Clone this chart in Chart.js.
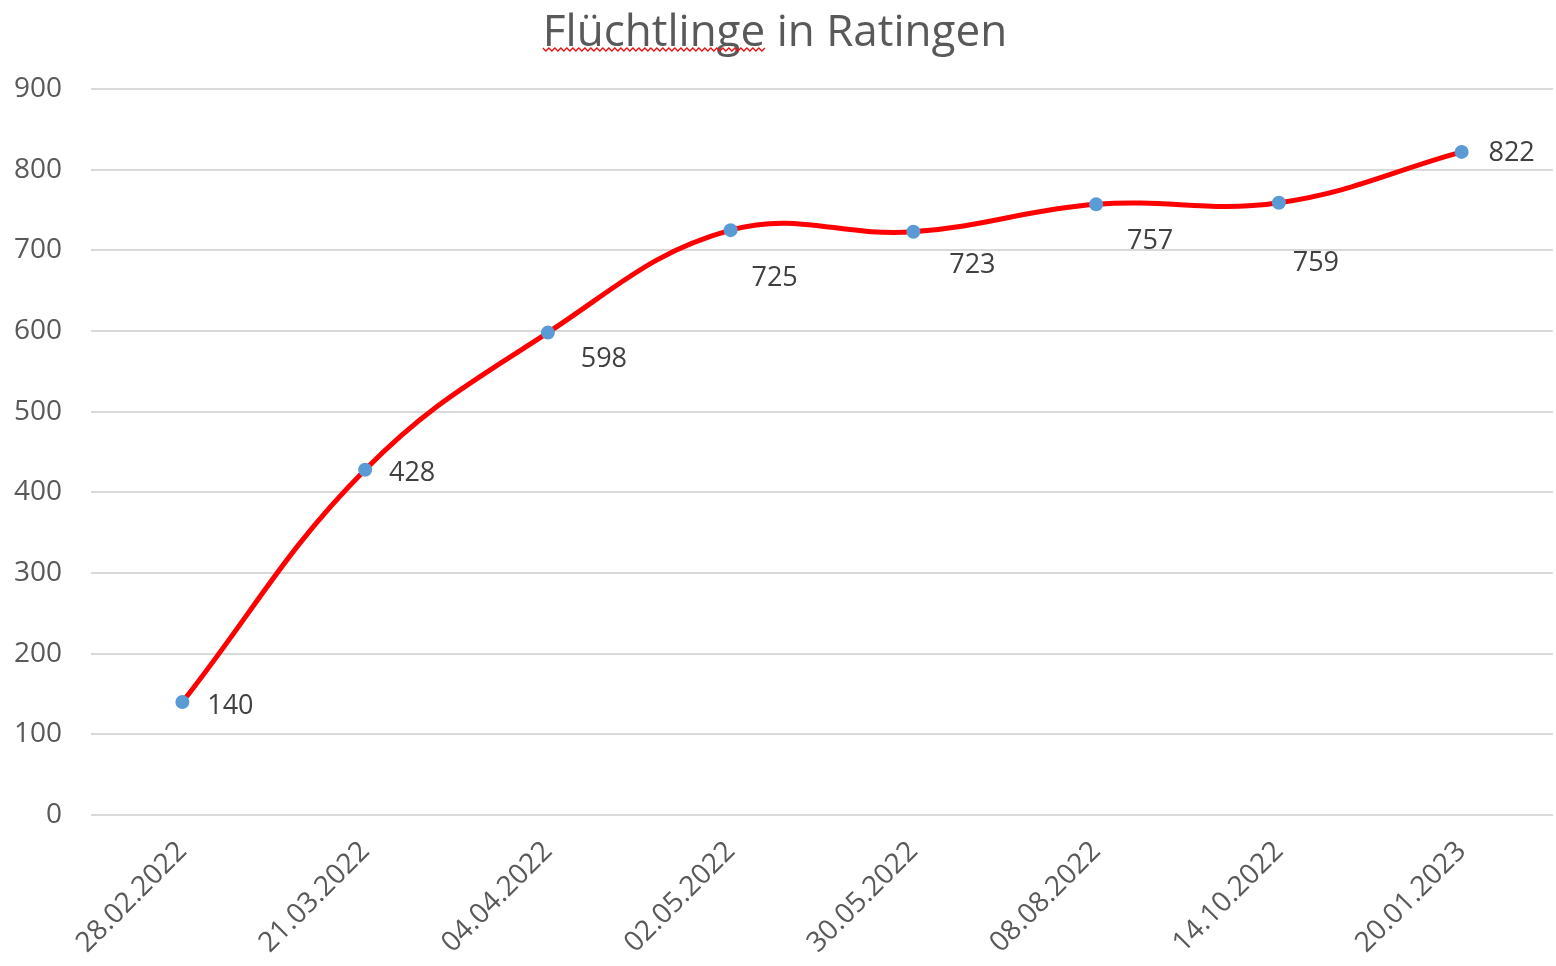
<!DOCTYPE html>
<html>
<head>
<meta charset="utf-8">
<script src="https://cdn.jsdelivr.net/npm/chart.js@4"></script>
<style>
  html, body { margin: 0; padding: 0; background: #fff; overflow: hidden; }
  /* a little wider than the window: Chart.js keeps a few px on the right, the grid should reach the edge */
  #wrap { width: 1560px; height: 966px; }
</style>
</head>
<body>
<div id="wrap"><canvas id="chart"></canvas></div>
<script>
const chartTitle = "Flüchtlinge in Ratingen";
const dates = ["28.02.2022", "21.03.2022", "04.04.2022", "02.05.2022", "30.05.2022", "08.08.2022", "14.10.2022", "20.01.2023"];
const refugees = [140, 428, 598, 725, 723, 757, 759, 822];
const yTicks = [0, 100, 200, 300, 400, 500, 600, 700, 800, 900];

const FONT = "'Open Sans', 'Liberation Sans', sans-serif";
const TITLE_SIZE = 44;

// data labels, offset from each point like in the original
const labelPlugin = {
  id: "pointLabels",
  afterDatasetsDraw(chart, args, opts) {
    const ctx = chart.ctx;
    const meta = chart.getDatasetMeta(0);
    ctx.save();
    ctx.font = "27px " + FONT;
    ctx.fillStyle = "#404040";
    ctx.textAlign = "center";
    ctx.textBaseline = "middle";
    meta.data.forEach((pt, i) => {
      const off = opts.offsets[i] || [45, 0];
      ctx.fillText(String(chart.data.datasets[0].data[i]), pt.x + off[0], pt.y + off[1]);
    });
    ctx.restore();
  }
};

// title centred on the visible part + red spell-check squiggle under the first word
const titlePlugin = {
  id: "wordTitle",
  afterDraw(chart, args, opts) {
    const ctx = chart.ctx;
    const cx = opts.centerX;
    ctx.save();
    ctx.font = TITLE_SIZE + "px " + FONT;
    ctx.fillStyle = "#595959";
    ctx.textAlign = "center";
    ctx.textBaseline = "alphabetic";
    ctx.fillText(chartTitle, cx, opts.baseline);
    const full = ctx.measureText(chartTitle).width;
    const word = ctx.measureText("Flüchtlinge").width;
    const x0 = cx - full / 2;
    const y = opts.baseline + 2;
    ctx.strokeStyle = "#e81010";
    ctx.lineWidth = 1.3;
    ctx.beginPath();
    for (let x = 0; x <= word; x += 3) {
      const yy = y + ((x / 3) % 2 === 0 ? 0 : 3);
      if (x === 0) ctx.moveTo(x0 + x, yy); else ctx.lineTo(x0 + x, yy);
    }
    ctx.stroke();
    ctx.restore();
  }
};

new Chart(document.getElementById("chart"), {
  type: "line",
  data: {
    labels: dates,
    datasets: [{
      data: refugees,
      borderColor: "#ff0000",
      borderWidth: 5,
      tension: 0.4,
      pointRadius: 7,
      pointHoverRadius: 7,
      pointBackgroundColor: "#5b9bd5",
      pointBorderColor: "#5b9bd5",
      pointBorderWidth: 0,
      fill: false
    }]
  },
  options: {
    responsive: true,
    maintainAspectRatio: false,
    animation: false,
    layout: { padding: { top: 89, left: 0, right: 0, bottom: 0 } },
    plugins: {
      legend: { display: false },
      tooltip: { enabled: false },
      title: { display: false },
      wordTitle: { centerX: 775, baseline: 46 },
      pointLabels: {
        offsets: [[48, 4], [47, 4], [56, 27], [44, 48], [59, 34], [54, 37], [37, 61], [50, 1]]
      }
    },
    scales: {
      x: {
        offset: true,
        grid: { display: false, drawTicks: false },
        border: { display: false },
        ticks: {
          color: "#595959",
          font: { family: FONT, size: 28 },
          maxRotation: 45,
          minRotation: 45,
          padding: 20
        },
        afterFit(scale) {
          scale.height = 151;
          scale.paddingLeft = 0;
          scale.paddingRight = 0;
        }
      },
      y: {
        min: 0,
        max: 900,
        afterBuildTicks(scale) { scale.ticks = yTicks.map(v => ({ value: v })); },
        grid: { color: "#d9d9d9", lineWidth: 2, drawTicks: false },
        border: { display: false },
        ticks: {
          color: "#595959",
          font: { family: FONT, size: 28 },
          padding: 29
        },
        afterFit(scale) { scale.width = 91; }
      }
    }
  },
  plugins: [labelPlugin, titlePlugin]
});
</script>
</body>
</html>
